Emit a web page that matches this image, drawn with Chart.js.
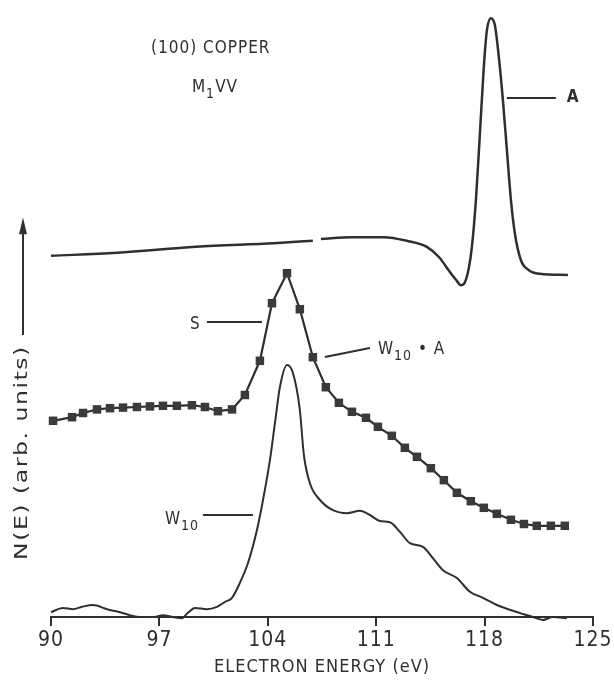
<!DOCTYPE html>
<html>
<head>
<meta charset="utf-8">
<script src="https://cdn.jsdelivr.net/npm/chart.js@4.4.1/dist/chart.umd.min.js"></script>
<style>
  html, body { margin: 0; padding: 0; background: #fff; }
  #wrap { width: 614px; height: 681px; }
</style>
</head>
<body>
<div id="wrap"><canvas id="c"></canvas></div>
<script>
'use strict';

// tick labels of the energy axis (eV)
var energyTicks = [90, 97, 104, 111, 118, 125];

// curve A : M1VV spectrum of (100) copper (null = break in the trace)
var energyA = [90.0, 94.26, 99.36, 104.4, 106.91, 107.15, 107.43, 109.43, 111.5, 112.98, 114.27,
  115.05, 115.76, 116.15, 116.47, 116.73, 116.99, 117.18, 117.44, 117.7, 117.95, 118.15, 118.41,
  118.66, 118.92, 119.18, 119.44, 119.7, 119.95, 120.34, 120.86, 121.57, 123.38];
var countsA = [60.2, 60.7, 61.7, 62.3, 62.7, null, 63.0, 63.3, 63.3, 62.7, 61.7,
  60.0, 57.5, 56.2, 55.3, 55.8, 58.3, 61.7, 69.5, 80.7, 91.7, 97.8, 99.8,
  98.7, 93.3, 86.2, 77.8, 69.5, 64.0, 59.5, 57.8, 57.2, 57.0];

// curve S : W10 * A (square markers)
var energyS = [90.13, 91.36, 92.07, 92.97, 93.81, 94.65, 95.55, 96.39, 97.23, 98.13, 99.1, 99.94,
  100.78, 101.69, 102.52, 103.49, 104.27, 105.24, 106.07, 106.91, 107.75, 108.59, 109.43, 110.34,
  111.11, 112.01, 112.85, 113.63, 114.53, 115.37, 116.21, 117.11, 117.95, 118.79, 119.7, 120.54,
  121.37, 122.28, 123.18];
var countsS = [32.7, 33.3, 34.0, 34.6, 34.8, 34.9, 35.0, 35.1, 35.2, 35.2, 35.3, 35.0,
  34.3, 34.6, 37.0, 42.7, 52.3, 57.3, 51.3, 43.3, 38.3, 35.7, 34.2, 33.2,
  31.7, 30.2, 28.2, 26.7, 24.8, 22.8, 20.7, 19.3, 18.2, 17.2, 16.2, 15.5,
  15.2, 15.2, 15.2];

// curve W10
var energyW = [90.0, 90.77, 91.42, 92.0, 92.71, 93.62, 94.45, 95.1, 95.75, 96.58, 97.23, 97.88,
  98.46, 98.84, 99.3, 100.07, 100.72, 101.23, 101.69, 102.2, 102.72, 103.3, 103.69, 104.14,
  104.46, 104.78, 105.24, 105.62, 106.07, 106.33, 106.72, 107.37, 108.21, 109.11, 109.95, 110.59,
  111.24, 111.88, 112.53, 113.18, 114.02, 114.66, 115.31, 116.21, 117.05, 117.89, 118.79, 119.63,
  120.47, 121.37, 121.76, 122.41, 123.31];
var countsW = [0.8, 1.5, 1.3, 1.7, 2.0, 1.3, 0.8, 0.3, 0.0, 0.0, 0.3, 0.0,
  -0.2, 0.7, 1.5, 1.3, 1.7, 2.5, 3.2, 5.7, 9.0, 14.5, 19.5, 26.2,
  32.3, 38.3, 42.0, 40.7, 34.5, 27.0, 22.3, 19.5, 17.8, 17.3, 17.7, 17.0,
  16.0, 15.8, 14.2, 12.3, 11.7, 9.8, 7.8, 6.5, 4.2, 3.2, 2.0, 1.2,
  0.5, -0.2, -0.5, 0.0, -0.2];

var ink = '#2f2f2f';
var fam = "'DejaVu Sans Condensed', 'Liberation Sans Narrow', 'DejaVu Sans', sans-serif";

function pairs(xs, ys) {
  return xs.map(function(x, i) { return { x: x, y: ys[i] }; });
}

// draw a label made of runs, some of them subscripts
function drawRuns(ctx, runs, x, y, size) {
  var cx = x;
  runs.forEach(function(r) {
    var s = r.sub ? Math.round(size * 0.8) : size;
    ctx.font = (r.bold ? 'bold ' : '') + s + 'px ' + fam;
    ctx.fillText(r.t, cx, y + (r.sub ? size * 0.38 : 0));
    cx += ctx.measureText(r.t).width;
  });
}

var notes = {
  id: 'notes',
  beforeDraw: function(chart) {
    chart.ctx.letterSpacing = '1px';
  },
  afterDatasetsDraw: function(chart) {
    var ctx = chart.ctx;
    var xs = chart.scales.x, ys = chart.scales.y;
    function px(e) { return xs.getPixelForValue(e); }
    function py(v) { return ys.getPixelForValue(v); }
    function seg(e0, v0, e1, v1) {
      ctx.beginPath();
      ctx.moveTo(px(e0), py(v0));
      ctx.lineTo(px(e1), py(v1));
      ctx.stroke();
    }
    ctx.save();
    ctx.fillStyle = ink;
    ctx.strokeStyle = ink;
    ctx.lineWidth = 2;
    ctx.textBaseline = 'middle';
    ctx.textAlign = 'left';
    ctx.letterSpacing = '1px';

    drawRuns(ctx, [{ t: '(100) COPPER' }], px(96.46), py(94.8), 17);
    drawRuns(ctx, [{ t: 'M' }, { t: '1', sub: true }, { t: 'VV' }], px(99.1), py(88.2), 17);

    seg(119.44, 86.5, 122.6, 86.5);
    drawRuns(ctx, [{ t: 'A', bold: true }], px(123.3), py(86.5), 17);

    seg(100.07, 49.17, 103.62, 49.17);
    drawRuns(ctx, [{ t: 'S' }], px(98.97), py(48.8), 17);

    seg(107.69, 43.33, 110.59, 44.83);
    drawRuns(ctx, [{ t: 'W' }, { t: '10', sub: true }, { t: ' \u2022 A' }], px(111.11), py(44.5), 17);

    seg(99.81, 17.0, 103.04, 17.0);
    drawRuns(ctx, [{ t: 'W' }, { t: '10', sub: true }], px(97.36), py(16.2), 17);

    // y axis label with arrow
    var ax = chart.chartArea.left - 28;
    ctx.beginPath();
    ctx.moveTo(ax, py(47));
    ctx.lineTo(ax, py(64.5));
    ctx.stroke();
    ctx.beginPath();
    ctx.moveTo(ax, py(66.6));
    ctx.lineTo(ax - 4, py(63.8));
    ctx.lineTo(ax + 4, py(63.8));
    ctx.closePath();
    ctx.fill();

    ctx.translate(ax, (py(45.3) + py(9.5)) / 2);
    ctx.rotate(-Math.PI / 2);
    ctx.font = '17px ' + fam;
    ctx.textAlign = 'center';
    var label = 'N(E) (arb. units)';
    var w = ctx.measureText(label).width;
    ctx.scale((py(9.5) - py(45.3)) / w, 1);
    ctx.fillText(label, 0, 0);
    ctx.restore();
  }
};

new Chart(document.getElementById('c'), {
  type: 'line',
  data: {
    datasets: [
      {
        data: pairs(energyA, countsA),
        borderColor: ink,
        borderWidth: 2.5,
        pointRadius: 0,
        cubicInterpolationMode: 'monotone',
        spanGaps: false,
        clip: false
      },
      {
        data: pairs(energyS, countsS),
        borderColor: ink,
        borderWidth: 2.2,
        pointStyle: 'rect',
        pointRadius: 6,
        pointBackgroundColor: '#3a3a3a',
        pointBorderWidth: 0,
        tension: 0,
        clip: false
      },
      {
        data: pairs(energyW, countsW),
        borderColor: ink,
        borderWidth: 2,
        pointRadius: 0,
        cubicInterpolationMode: 'monotone',
        clip: false
      }
    ]
  },
  options: {
    responsive: true,
    maintainAspectRatio: false,
    animation: false,
    events: [],
    layout: { padding: { left: 51, right: 21, top: 17, bottom: 0 } },
    plugins: { legend: { display: false }, tooltip: { enabled: false } },
    scales: {
      x: {
        type: 'linear',
        min: 90,
        max: 125,
        afterBuildTicks: function(scale) {
          scale.ticks = energyTicks.map(function(v) { return { value: v }; });
        },
        afterFit: function(scale) { scale.height = 64; },
        ticks: {
          color: ink,
          padding: 2,
          maxRotation: 0,
          font: { family: fam, size: 21 }
        },
        grid: {
          display: true,
          drawOnChartArea: false,
          drawTicks: true,
          tickLength: 9,
          color: ink,
          lineWidth: 2
        },
        border: { display: true, color: ink, width: 2 },
        title: {
          display: true,
          text: 'ELECTRON ENERGY (eV)',
          color: ink,
          font: { family: fam, size: 18 },
          padding: { top: 0, bottom: 3 }
        }
      },
      y: {
        display: false,
        min: 0,
        max: 100
      }
    }
  },
  plugins: [notes]
});
</script>
</body>
</html>
